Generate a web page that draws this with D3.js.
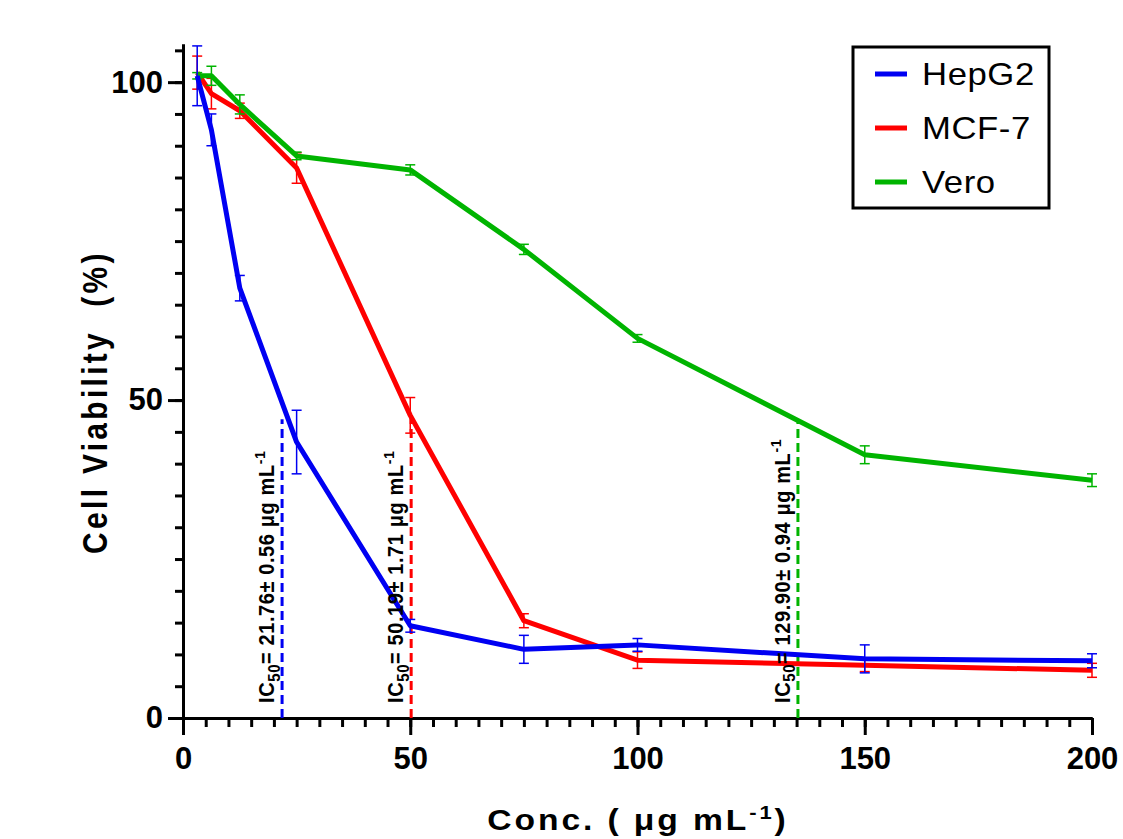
<!DOCTYPE html>
<html>
<head>
<meta charset="utf-8">
<script src="https://cdn.jsdelivr.net/npm/d3@7"></script>
<style>
  body { margin: 0; background: white; }
  svg { font-family: "Liberation Sans", Arial, sans-serif; }
</style>
</head>
<body>
<script>
// data
const conc = [3.125, 6.25, 12.5, 25, 50, 75, 100, 150, 200]

const hepg2 = [101, 92.5, 67.6, 43.4, 14.5, 10.8, 11.5, 9.3, 9.0]
const hepg2Err = [4.7, 2.5, 2.0, 5.0, 1.0, 2.2, 1.0, 2.2, 1.1]

const mcf7 = [101.5, 98.2, 95.5, 86.5, 47.6, 15.3, 9.1, 8.3, 7.5]
const mcf7Err = [2.6, 2.4, 1.2, 2.4, 2.8, 1.1, 1.3, 1.0, 1.1]

const vero = [101, 101, 96.5, 88.4, 86.2, 73.7, 59.7, 41.4, 37.4]
const veroErr = [0.5, 1.5, 1.5, 0.6, 0.8, 0.8, 0.6, 1.4, 1.0]

const seriesNames = ['HepG2', 'MCF-7', 'Vero']
const seriesColors = ['#0000f2', '#ff0000', '#00b400']

// IC50 markers (dashed line position on x, label text)
const icLineX = [21.8, 50.2, 135.3]
const icLineTop = 47
const icText = ['21.76± 0.56', '50.19± 1.71', '129.90± 0.94']

const xTicks = [0, 50, 100, 150, 200]
const yTicks = [0, 50, 100]

const width = 1123, height = 839

const svg = d3.select('body').append('svg')
    .attr('width', width)
    .attr('height', height)

svg.append('rect').attr('width', width).attr('height', height).attr('fill', 'white')

const xScale = d3.scaleLinear().domain([0, 200]).range([183, 1092])
const yScale = d3.scaleLinear().domain([0, 106]).range([718, 44])

// minor ticks every 5
const xMinor = d3.range(0, 201, 5)
const yMinor = d3.range(0, 106, 5)

// x axis
svg.append('g')
    .attr('transform', 'translate(0,' + yScale(0) + ')')
    .call(d3.axisBottom(xScale).tickValues(xMinor).tickSize(9).tickSizeOuter(0).tickFormat(''))
svg.append('g')
    .attr('transform', 'translate(0,' + yScale(0) + ')')
    .call(d3.axisBottom(xScale).tickValues(xTicks).tickSize(17).tickSizeOuter(0).tickPadding(12))

// y axis
svg.append('g')
    .attr('transform', 'translate(' + xScale(0) + ',0)')
    .call(d3.axisLeft(yScale).tickValues(yMinor).tickSize(8).tickSizeOuter(0).tickFormat(''))
svg.append('g')
    .attr('transform', 'translate(' + xScale(0) + ',0)')
    .call(d3.axisLeft(yScale).tickValues(yTicks).tickSize(15).tickSizeOuter(0).tickPadding(5))

svg.selectAll('.domain, .tick line')
    .attr('stroke', '#000')
    .attr('stroke-width', 3)

svg.selectAll('.tick text')
    .attr('fill', '#000')
    .style('font-size', '31px')
    .style('font-weight', 'bold')
    .style('font-family', '"Liberation Sans", Arial, sans-serif')

// axis titles
svg.append('text')
    .attr('text-anchor', 'middle')
    .attr('transform', 'translate(107,402)rotate(-90)scale(1,1.15)')
    .style('font-size', '30px')
    .style('font-weight', 'bold')
    .style('letter-spacing', '3.3px')
    .style('white-space', 'pre')
    .text('Cell Viability  (%)')

const xTitle = svg.append('text')
    .attr('text-anchor', 'middle')
    .attr('transform', 'translate(638,830)scale(1.16,1)')
    .style('font-size', '29px')
    .style('font-weight', 'bold')
    .style('letter-spacing', '2.5px')
xTitle.append('tspan').text('Conc. ( μg mL')
xTitle.append('tspan').attr('dy', -11).style('font-size', '19px').text('-1')
xTitle.append('tspan').attr('dy', 11).text(')')

// IC50 dashed lines
icLineX.forEach((v, i) => {
    svg.append('line')
        .attr('x1', xScale(v)).attr('x2', xScale(v))
        .attr('y1', yScale(0)).attr('y2', yScale(icLineTop))
        .attr('stroke', seriesColors[i])
        .attr('stroke-width', 3)
        .attr('stroke-dasharray', '9,5')
})

// series
const allSeries = [
    {name: 'MCF-7', values: mcf7, err: mcf7Err, color: seriesColors[1]},
    {name: 'Vero', values: vero, err: veroErr, color: seriesColors[2]},
    {name: 'HepG2', values: hepg2, err: hepg2Err, color: seriesColors[0]}
]

const line = d3.line()
    .x(d => xScale(d.x))
    .y(d => yScale(d.y))

allSeries.forEach(s => {
    const pts = conc.map((c, i) => ({x: c, y: s.values[i], e: s.err[i]}))

    // error bars
    const eb = svg.append('g')
        .attr('stroke', s.color)
        .attr('stroke-width', 1.5)
    eb.selectAll('.bar').data(pts).enter().append('line')
        .attr('x1', d => xScale(d.x)).attr('x2', d => xScale(d.x))
        .attr('y1', d => yScale(d.y - d.e)).attr('y2', d => yScale(d.y + d.e))
    eb.selectAll('.capTop').data(pts).enter().append('line')
        .attr('x1', d => xScale(d.x) - 5).attr('x2', d => xScale(d.x) + 5)
        .attr('y1', d => yScale(d.y + d.e)).attr('y2', d => yScale(d.y + d.e))
    eb.selectAll('.capBot').data(pts).enter().append('line')
        .attr('x1', d => xScale(d.x) - 5).attr('x2', d => xScale(d.x) + 5)
        .attr('y1', d => yScale(d.y - d.e)).attr('y2', d => yScale(d.y - d.e))

    svg.append('path')
        .datum(pts)
        .attr('d', line)
        .attr('fill', 'none')
        .attr('stroke', s.color)
        .attr('stroke-width', 5)
        .attr('stroke-linejoin', 'round')
})

// IC50 labels
icLineX.forEach((v, i) => {
    const t = svg.append('text')
        .attr('transform', 'translate(' + (xScale(v) - 8) + ',' + 703 + ')rotate(-90)scale(1,1.1)')
        .style('font-size', '20px')
        .style('font-weight', 'bold')
        .style('letter-spacing', '0.6px')
    t.append('tspan').text('IC')
    t.append('tspan').attr('dy', 5).style('font-size', '15px').text('50')
    t.append('tspan').attr('dy', -5).text('= ' + icText[i] + ' μg mL')
    t.append('tspan').attr('dy', -8).style('font-size', '14px').text('-1')
})

// legend
const legend = svg.append('g')
legend.append('rect')
    .attr('x', 853).attr('y', 47)
    .attr('width', 196).attr('height', 161)
    .attr('fill', 'white')
    .attr('stroke', '#000')
    .attr('stroke-width', 3)

seriesNames.forEach((n, i) => {
    const yy = 74 + i * 54
    legend.append('line')
        .attr('x1', 875).attr('x2', 907)
        .attr('y1', yy).attr('y2', yy)
        .attr('stroke', seriesColors[i])
        .attr('stroke-width', 5)
    legend.append('text')
        .attr('transform', 'translate(922,' + (yy + 11) + ')scale(1.12,1)')
        .style('font-size', '31px')
        .style('letter-spacing', '0.5px')
        .text(n)
})
</script>
</body>
</html>
